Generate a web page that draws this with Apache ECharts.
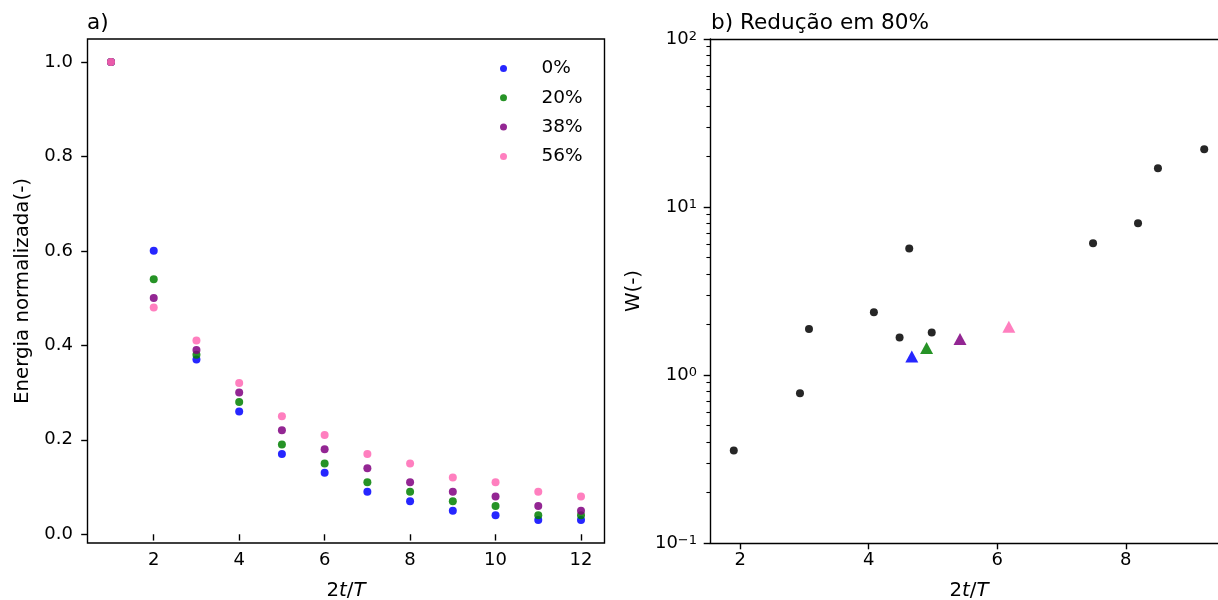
<!DOCTYPE html>
<html><head><meta charset="utf-8">
<script src="https://cdn.jsdelivr.net/npm/echarts@6/dist/echarts.min.js"></script>
<style>html,body{margin:0;padding:0;background:#fff}#c{width:1218px;height:600px}</style>
</head><body><div id="c"></div>
<script>
// ---- data ----
const steps = [1,2,3,4,5,6,7,8,9,10,11,12];
const energy0  = [1.0,0.60,0.37,0.26,0.17,0.13,0.09,0.07,0.05,0.04,0.03,0.03];
const energy20 = [1.0,0.54,0.38,0.28,0.19,0.15,0.11,0.09,0.07,0.06,0.04,0.04];
const energy38 = [1.0,0.50,0.39,0.30,0.22,0.18,0.14,0.11,0.09,0.08,0.06,0.05];
const energy56 = [1.0,0.48,0.41,0.32,0.25,0.21,0.17,0.15,0.12,0.11,0.09,0.08];
const reductionLabels = ['0%','20%','38%','56%'];
const reductionColors = ['#0000ff','#008000','#800080','#ff69b4'];
const wX = [1.90,2.93,3.07,4.08,4.48,4.63,4.98,7.49,8.19,8.50,9.22];
const wY = [0.355,0.78,1.88,2.36,1.67,5.67,1.79,6.08,8.0,17.0,22.1];
const triX = [4.67,4.90,5.42,6.18];
const triY = [1.29,1.45,1.64,1.94];
const xTicksA = [2,4,6,8,10,12];
const yTicksA = [0,0.2,0.4,0.6,0.8,1.0];
const xTicksB = [2,4,6,8];
const yTicksB = [0.1,1,10,100];
const logMinorTicks = [0.2,0.3,0.4,0.5,0.6,0.7,0.8,0.9,2,3,4,5,6,7,8,9,20,30,40,50,60,70,80,90];

const FF = 'DejaVu Sans';
const black = '#000';
const lw = 1.4;
const energySets = [energy0, energy20, energy38, energy56];

const chart = echarts.init(document.getElementById('c'), null, {renderer:'canvas'});

const spine = {show: true, onZero: false, lineStyle: {color: black, width: lw}};
function baseAxis(extra) {
  return Object.assign({
    axisLine: {show: false},
    splitLine: {show: false},
    axisTick: {show: true, length: 6.3, lineStyle: {color: black, width: lw}},
    axisLabel: {color: black, fontSize: 18, fontFamily: FF},
    nameTextStyle: {color: black, fontSize: 19.8, fontFamily: FF}
  }, extra);
}
function logLabel(v) {
  const e = Math.round(Math.log10(v));
  return '{b|10}{s|' + String(e).replace('-', '\u2212') + '}';
}
const xNameStyle = {color: black, fontSize: 19.8, fontFamily: FF,
  rich: {i: {fontStyle: 'italic', fontSize: 19.8, fontFamily: FF, color: black}}};

const option = {
  backgroundColor: '#fff',
  animation: false,
  title: [
    {text: 'a)', left: 87, top: 12, padding: 0, textStyle: {fontSize: 21.6, fontWeight: 'normal', color: black, fontFamily: FF}},
    {text: 'b) Redução em 80%', left: 711, top: 12, padding: 0, textStyle: {fontSize: 21.6, fontWeight: 'normal', color: black, fontFamily: FF}}
  ],
  legend: {
    left: 500, top: 59, orient: 'vertical', padding: 0,
    itemWidth: 66, itemHeight: 7, itemGap: 10.3, icon: 'circle',
    data: reductionLabels,
    textStyle: {fontSize: 18.5, color: black, fontFamily: FF}
  },
  grid: [
    {left: 87.5, top: 39, width: 517, height: 504, show: true, borderColor: black, borderWidth: lw,
     backgroundColor: 'transparent', outerBoundsMode: 'none', containLabel: false},
    {left: 710, top: 39, width: 518, height: 504, show: false,
     outerBoundsMode: 'none', containLabel: false}
  ],
  xAxis: [
    baseAxis({gridIndex: 0, type: 'value', min: 0.45, max: 12.55,
      axisTick: {show: true, length: 6.3, customValues: xTicksA, lineStyle: {color: black, width: lw}},
      axisLabel: {customValues: xTicksA, color: black, fontSize: 18, fontFamily: FF, margin: 8},
      name: '2{i|t}/{i|T}', nameLocation: 'middle', nameGap: 38, nameTextStyle: xNameStyle
    }),
    baseAxis({gridIndex: 1, type: 'value', min: 1.53, max: 9.59, position: 'bottom',
      axisLine: spine,
      axisTick: {show: true, length: 6.3, customValues: xTicksB, lineStyle: {color: black, width: lw}},
      axisLabel: {customValues: xTicksB, color: black, fontSize: 18, fontFamily: FF, margin: 8},
      name: '2{i|t}/{i|T}', nameLocation: 'middle', nameGap: 38, nameTextStyle: xNameStyle
    }),
    baseAxis({gridIndex: 1, type: 'value', min: 1.53, max: 9.59, position: 'top',
      axisLine: spine, axisTick: {show: false}, axisLabel: {show: false}
    })
  ],
  yAxis: [
    baseAxis({gridIndex: 0, type: 'value', min: -0.0185, max: 1.0485,
      axisTick: {show: true, length: 6.3, customValues: yTicksA, lineStyle: {color: black, width: lw}},
      axisLabel: {customValues: yTicksA, color: black, fontSize: 18, fontFamily: FF, margin: 14.5, formatter: v => Number(v).toFixed(1)},
      name: 'Energia normalizada(-)', nameLocation: 'middle', nameGap: 55
    }),
    baseAxis({gridIndex: 1, type: 'log', logBase: 10, min: 0.1, max: 100, position: 'left',
      axisLine: spine,
      axisTick: {show: true, length: 6.3, customValues: yTicksB, lineStyle: {color: black, width: lw}},
      axisLabel: {customValues: yTicksB, margin: 13, formatter: logLabel,
        rich: {
          b: {fontSize: 18, fontFamily: FF, color: black, lineHeight: 18, verticalAlign: 'bottom'},
          s: {fontSize: 13, fontFamily: FF, color: black, lineHeight: 13, padding: [0,0,7.5,0], verticalAlign: 'top'}
        }},
      name: 'W(-)', nameLocation: 'middle', nameGap: 66
    }),
    baseAxis({gridIndex: 1, type: 'log', logBase: 10, min: 0.1, max: 100, position: 'left',
      axisTick: {show: true, length: 3.6, customValues: logMinorTicks, lineStyle: {color: black, width: 1.1}},
      axisLabel: {show: false}
    })
  ],
  series: [
    ...energySets.map((arr, k) => ({
      name: reductionLabels[k], type: 'scatter', xAxisIndex: 0, yAxisIndex: 0,
      symbol: 'circle', symbolSize: 8,
      itemStyle: {color: reductionColors[k], opacity: 0.85},
      data: steps.map((s, i) => [s, arr[i]])
    })),
    {
      name: 'W', type: 'scatter', xAxisIndex: 1, yAxisIndex: 1,
      symbol: 'circle', symbolSize: 8,
      itemStyle: {color: '#000', opacity: 0.85},
      data: wX.map((x, i) => [x, wY[i]])
    },
    {
      name: 'W80', type: 'scatter', xAxisIndex: 1, yAxisIndex: 1,
      symbol: 'triangle', symbolSize: [13, 12],
      data: triX.map((x, i) => ({value: [x, triY[i]], itemStyle: {color: reductionColors[i], opacity: 0.85}}))
    }
  ]
};
chart.setOption(option);
</script>
</body></html>
